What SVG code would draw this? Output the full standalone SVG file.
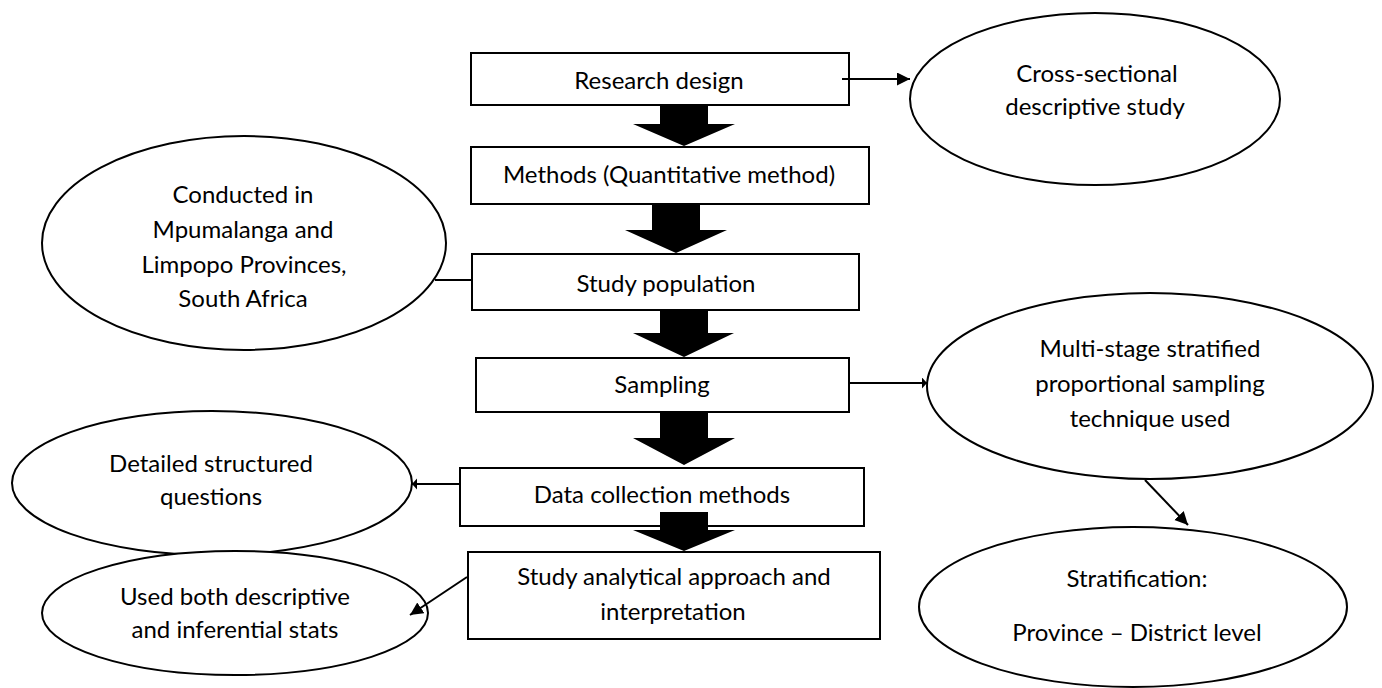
<svg xmlns="http://www.w3.org/2000/svg" width="1382" height="688" viewBox="0 0 1382 688">
<defs>
<style>
.box{fill:#fff;stroke:#000;stroke-width:2}
.ell{fill:#fff;stroke:#000;stroke-width:2}
.t{font-family:Lato,"Open Sans","Liberation Sans",sans-serif;font-size:24px;fill:#000;text-anchor:middle}
.ln{stroke:#000;stroke-width:2;fill:none}
.blk{fill:#000}
</style>
<marker id="ah" markerUnits="userSpaceOnUse" markerWidth="14" markerHeight="14" refX="13" refY="6.5" orient="auto">
<path d="M0,0 L13,6.5 L0,13 z" fill="#000"/>
</marker>
<marker id="ahs" markerUnits="userSpaceOnUse" markerWidth="8" markerHeight="12" refX="5" refY="5.5" orient="auto">
<path d="M0,0 L5,5.5 L0,11 z" fill="#000"/>
</marker>
</defs>
<rect width="1382" height="688" fill="#fff"/>

<g id="n-cross">
<ellipse class="ell" cx="1095" cy="99" rx="185" ry="86"/>
<text class="t" x="1097" y="82">Cross-sectional</text>
<text class="t" x="1095" y="115">descriptive study</text>
</g>

<g id="n-conducted">
<ellipse class="ell" cx="244" cy="243" rx="202" ry="107"/>
<text class="t" x="243" y="203">Conducted in</text>
<text class="t" x="243" y="238">Mpumalanga and</text>
<text class="t" x="244" y="273">Limpopo Provinces,</text>
<text class="t" x="243" y="307">South Africa</text>
</g>

<g id="n-multistage">
<ellipse class="ell" cx="1150" cy="386" rx="223" ry="93"/>
<text class="t" x="1150" y="357">Multi-stage stratified</text>
<text class="t" x="1150" y="392">proportional sampling</text>
<text class="t" x="1150" y="427">technique used</text>
</g>

<g id="n-detailed">
<ellipse class="ell" cx="212" cy="483" rx="200" ry="72"/>
<text class="t" x="211" y="472">Detailed structured</text>
<text class="t" x="211" y="505">questions</text>
</g>

<g id="n-usedboth">
<ellipse class="ell" cx="235" cy="613" rx="193" ry="62"/>
<text class="t" x="235" y="605">Used both descriptive</text>
<text class="t" x="235" y="638">and inferential stats</text>
</g>

<g id="n-strat">
<ellipse class="ell" cx="1133" cy="607" rx="214" ry="80"/>
<text class="t" x="1137" y="587">Stratification:</text>
<text class="t" x="1137" y="641">Province – District level</text>
</g>

<g id="n-research">
<rect class="box" x="471" y="53" width="378" height="52"/>
<text class="t" x="659" y="89">Research design</text>
</g>

<g id="n-methods">
<rect class="box" x="471" y="147" width="398" height="57"/>
<text class="t" x="669" y="183">Methods (Quantitative method)</text>
</g>

<g id="n-population">
<rect class="box" x="472" y="254" width="387" height="56"/>
<text class="t" x="666" y="292">Study population</text>
</g>

<g id="n-sampling">
<rect class="box" x="476" y="358" width="373" height="54"/>
<text class="t" x="662" y="393">Sampling</text>
</g>

<g id="n-datacollection">
<rect class="box" x="460" y="468" width="404" height="58"/>
<text class="t" x="662" y="503">Data collection methods</text>
</g>

<g id="n-analytical">
<rect class="box" x="468" y="552" width="412" height="87"/>
<text class="t" x="674" y="585">Study analytical approach and</text>
<text class="t" x="673" y="620">interpretation</text>
</g>

<g id="block-arrows">
<polygon class="blk" points="660,105 708,105 708,124 735,124 684,146 633,124 660,124"/>
<polygon class="blk" points="652,204 700,204 700,230 727,230 676,253 625,230 652,230"/>
<polygon class="blk" points="660,310 708,310 708,333 734,333 684,357 633,333 660,333"/>
<polygon class="blk" points="660,412 708,412 708,438 735,438 684,465 633,438 660,438"/>
<polygon class="blk" points="660,512 708,512 708,530 735,530 684,551 633,530 660,530"/>
</g>

<g id="connectors">
<line class="ln" x1="842" y1="79" x2="910" y2="79" marker-end="url(#ah)"/>
<line class="ln" x1="435" y1="280" x2="472" y2="280"/>
<line class="ln" x1="850" y1="383" x2="927" y2="383" marker-end="url(#ahs)"/>
<line class="ln" x1="460" y1="484" x2="412" y2="484" marker-end="url(#ahs)"/>
<line class="ln" x1="467" y1="577" x2="410" y2="615" marker-end="url(#ah)"/>
<line class="ln" x1="1145" y1="480" x2="1188" y2="525" marker-end="url(#ah)"/>
</g>
</svg>
